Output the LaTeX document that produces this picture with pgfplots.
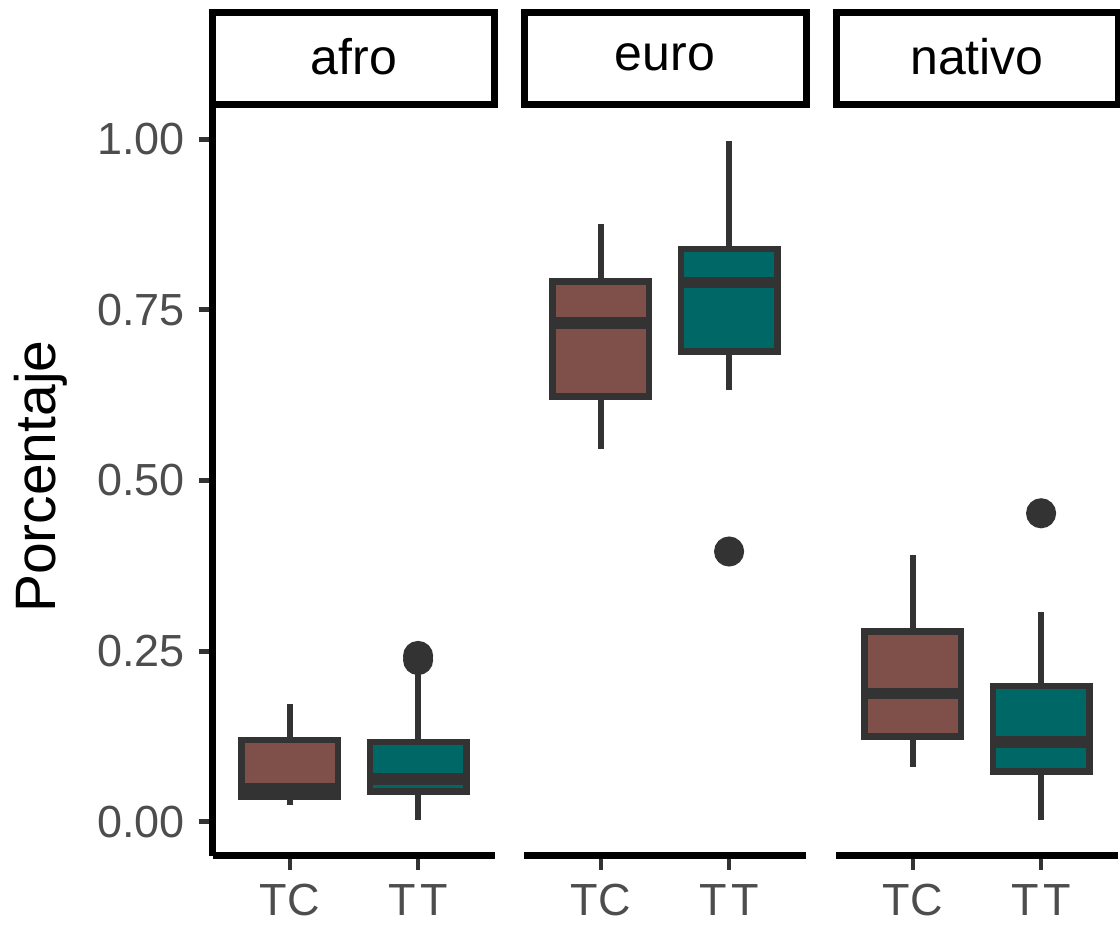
\documentclass[border=0pt]{standalone}
\usepackage{fontspec}
\setmainfont{Liberation Sans}
\usepackage{pgfplots}
\pgfplotsset{compat=1.18}
\usepgfplotslibrary{statistics}
\definecolor{tcfill}{HTML}{7F4F4A}
\definecolor{ttfill}{HTML}{006767}
\definecolor{boxline}{HTML}{333333}
\definecolor{ticklab}{HTML}{4D4D4D}
\pgfplotsset{
  panel/.style={
    scale only axis, width=141pt, height=375.5pt,
    xmin=0.4, xmax=2.6, ymin=-0.05, ymax=1.05,
    xtick={1,2}, xticklabels={TC,T\kern2.5pt T},
    axis x line*=bottom,
    every outer x axis line/.append style={-, line width=3.5pt, black},
    every outer y axis line/.append style={-, line width=3.5pt, black},
    tick style={boxline, line width=2.4pt},
    tick align=outside, major tick length=7pt,
    xticklabel style={font=\fontsize{22.5}{22.5}\selectfont, text=ticklab, inner sep=0pt, yshift=-7pt},
    yticklabel style={font=\fontsize{22.5}{22.5}\selectfont, text=ticklab, inner sep=0pt, xshift=-7pt},
    clip=false,
    boxplot/draw direction=y,
    boxplot/every median/.style={line width=5.8pt},
    boxplot/every box/.style={line join=miter},
  },
  tcbox/.style={fill=tcfill, draw=boxline, line width=3.4pt, mark=*, mark size=5.8pt, mark options={draw=none, fill=boxline}},
  ttbox/.style={fill=ttfill, draw=boxline, line width=3.4pt, mark=*, mark size=5.8pt, mark options={draw=none, fill=boxline}},
}
\newcommand{\strip}[1]{%
  \draw[line width=3.5pt, black, fill=white] (rel axis cs:0,1.0) rectangle (rel axis cs:1,1.1225);
  \node[font=\fontsize{25}{25}\selectfont, text=black] at (rel axis cs:0.5,1.064) {#1};
}
\begin{document}
\begin{tikzpicture}
% afro
\begin{axis}[panel, at={(0pt,0pt)},
  axis y line*=left,
  ytick={0,0.25,0.5,0.75,1}, yticklabels={0.00,0.25,0.50,0.75,1.00},
  ylabel={Porcentaje},
  ylabel style={at={(axis description cs:-0.61,0.505)}, anchor=center, font=\fontsize{28.5}{28.5}\selectfont},
]
\addplot[tcbox, boxplot prepared={draw position=1, lower whisker=0.025, lower quartile=0.037, median=0.049, upper quartile=0.120, upper whisker=0.172, box extend=0.75, whisker extend=0}] coordinates {};
\addplot[ttbox, boxplot prepared={draw position=2, lower whisker=0.002, lower quartile=0.044, median=0.063, upper quartile=0.117, upper whisker=0.222, box extend=0.75, whisker extend=0}] coordinates {(0,0.237) (0,0.243)};
\strip{afro}
\end{axis}
% euro
\begin{axis}[panel, at={(155.5pt,0pt)},
  axis y line=none, ytick=\empty,
]
\addplot[tcbox, boxplot prepared={draw position=1, lower whisker=0.546, lower quartile=0.623, median=0.731, upper quartile=0.791, upper whisker=0.876, box extend=0.75, whisker extend=0}] coordinates {};
\addplot[ttbox, boxplot prepared={draw position=2, lower whisker=0.632, lower quartile=0.689, median=0.790, upper quartile=0.839, upper whisker=0.997, box extend=0.75, whisker extend=0}] coordinates {(0,0.396)};
\strip{euro}
\end{axis}
% nativo
\begin{axis}[panel, at={(311.5pt,0pt)},
  axis y line=none, ytick=\empty,
]
\addplot[tcbox, boxplot prepared={draw position=1, lower whisker=0.080, lower quartile=0.125, median=0.188, upper quartile=0.279, upper whisker=0.391, box extend=0.75, whisker extend=0}] coordinates {};
\addplot[ttbox, boxplot prepared={draw position=2, lower whisker=0.003, lower quartile=0.074, median=0.117, upper quartile=0.199, upper whisker=0.308, box extend=0.75, whisker extend=0}] coordinates {(0,0.452)};
\strip{nativo}
\end{axis}
\pgfresetboundingbox
\path[use as bounding box] (-106.5pt,-35pt) rectangle (453.5pt,428pt);
\end{tikzpicture}
\end{document}
